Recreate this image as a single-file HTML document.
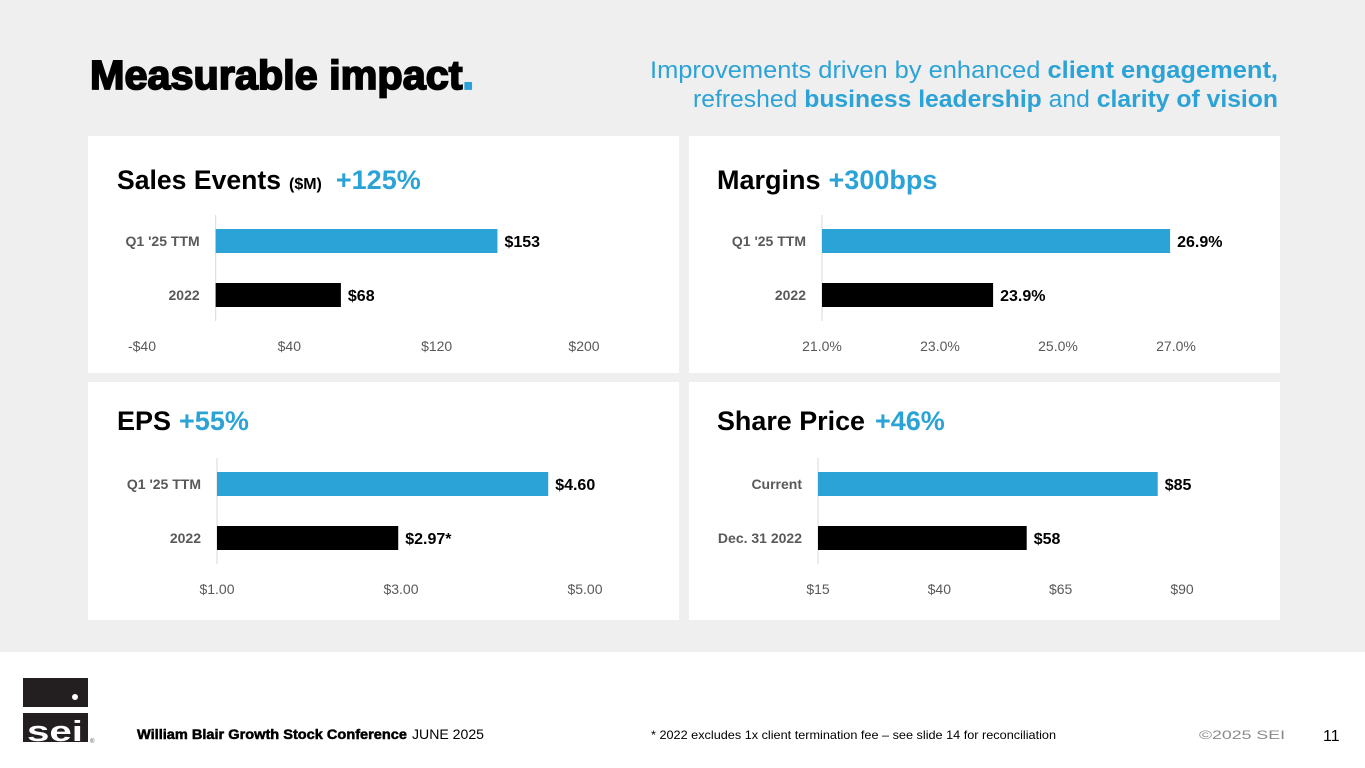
<!DOCTYPE html>
<html><head><meta charset="utf-8"><style>
html,body{margin:0;padding:0;width:1365px;height:768px;overflow:hidden;background:#fff}
svg{display:block;font-family:"Liberation Sans",sans-serif}
</style></head><body>
<svg id="s" width="1365" height="768" viewBox="0 0 1365 768">
<rect x="0" y="0" width="1365" height="652" fill="#efefef"/>
<text x="90" y="89" font-size="41" font-weight="bold" fill="#000" stroke="#000" stroke-width="1.8" textLength="384" lengthAdjust="spacingAndGlyphs">Measurable impact<tspan fill="#2ca3d6" stroke="#2ca3d6">.</tspan></text>
<text x="1278" y="78" font-size="24" fill="#2ca3d6" text-anchor="end" textLength="628" lengthAdjust="spacingAndGlyphs">Improvements driven by enhanced <tspan font-weight="bold">client engagement,</tspan></text>
<text x="1278" y="107" font-size="24" fill="#2ca3d6" text-anchor="end" textLength="585" lengthAdjust="spacingAndGlyphs">refreshed <tspan font-weight="bold">business leadership</tspan> and <tspan font-weight="bold">clarity of vision</tspan></text>

<rect x="88" y="136" width="591" height="237" fill="#fff"/>
<rect x="689" y="136" width="591" height="237" fill="#fff"/>
<rect x="88" y="382" width="591" height="238" fill="#fff"/>
<rect x="689" y="382" width="591" height="238" fill="#fff"/>

<text x="117" y="189" font-size="27" font-weight="bold" fill="#000"><tspan textLength="164" lengthAdjust="spacingAndGlyphs">Sales Events</tspan><tspan font-size="16" dx="8">($M)</tspan><tspan fill="#2ca3d6" dx="14">+125%</tspan></text>
<text x="717" y="189" font-size="27" font-weight="bold" fill="#000"><tspan>Margins</tspan><tspan fill="#2ca3d6" dx="8">+300bps</tspan></text>
<text x="117" y="430" font-size="27" font-weight="bold" fill="#000"><tspan>EPS</tspan><tspan fill="#2ca3d6" dx="8">+55%</tspan></text>
<text x="717" y="430" font-size="27" font-weight="bold" fill="#000"><tspan textLength="148" lengthAdjust="spacingAndGlyphs">Share Price</tspan><tspan fill="#2ca3d6" dx="10">+46%</tspan></text>
<g id="charts"></g>

<g>
<rect x="23" y="678" width="65" height="29" fill="#231f20"/>
<circle cx="75" cy="697" r="3" fill="#fff"/>
<rect x="23" y="713" width="65" height="29" fill="#231f20"/>
<text x="27" y="741" font-size="29" font-weight="bold" fill="#fff" textLength="56" lengthAdjust="spacingAndGlyphs">sei</text>
<text x="90" y="743" font-size="6" fill="#555">®</text>
</g>
<text x="137" y="739" font-size="14" font-weight="bold" fill="#000" stroke="#000" stroke-width="0.5" textLength="270" lengthAdjust="spacingAndGlyphs">William Blair Growth Stock Conference</text>
<text x="412" y="739" font-size="14" fill="#000" textLength="72" lengthAdjust="spacingAndGlyphs">JUNE  2025</text>
<text x="651" y="739" font-size="12" fill="#000" textLength="405" lengthAdjust="spacingAndGlyphs">* 2022 excludes 1x client termination fee – see slide 14 for reconciliation</text>
<text x="1199" y="739" font-size="12" fill="#8a8a8a" textLength="86" lengthAdjust="spacingAndGlyphs">©2025 SEI</text>
<text x="1323" y="741" font-size="16" fill="#000">11</text>
</svg>
<script>
// Sales Events
const salesCats = ["Q1 '25 TTM", "2022"];
const salesVals = [153, 68];
const salesLabels = ["$153", "$68"];
const salesTicks = [-40, 40, 120, 200];
const salesTickLabels = ["-$40", "$40", "$120", "$200"];
// Margins
const marginCats = ["Q1 '25 TTM", "2022"];
const marginVals = [26.9, 23.9];
const marginLabels = ["26.9%", "23.9%"];
const marginTicks = [21, 23, 25, 27];
const marginTickLabels = ["21.0%", "23.0%", "25.0%", "27.0%"];
// EPS
const epsCats = ["Q1 '25 TTM", "2022"];
const epsVals = [4.60, 2.97];
const epsLabels = ["$4.60", "$2.97*"];
const epsTicks = [1, 3, 5];
const epsTickLabels = ["$1.00", "$3.00", "$5.00"];
// Share price
const shareCats = ["Current", "Dec. 31 2022"];
const shareVals = [85, 58];
const shareLabels = ["$85", "$58"];
const shareTicks = [15, 40, 65, 90];
const shareTickLabels = ["$15", "$40", "$65", "$90"];

const NS = "http://www.w3.org/2000/svg";
const root = document.getElementById('charts');
const colors = ["#2ca3d6", "#000"];
function mk(tag, attrs, txt){const e=document.createElementNS(NS,tag);for(const k in attrs)e.setAttribute(k,attrs[k]);if(txt!==undefined)e.textContent=txt;root.appendChild(e);return e;}

function drawChart(prefix, cats, vals, labels, ticks, tickLabels, lay){
  const x = v => lay.px0 + (v - lay.t0) * (lay.px1 - lay.px0) / (lay.t1 - lay.t0);
  const base = x(lay.base);
  const ax = mk('line',{x1:base,x2:base,y1:lay.top,y2:lay.top+106,stroke:'#d9d9d9','stroke-width':1});
  
  
  cats.forEach((c,i)=>{
    const y = lay.top + 14 + i*54;
    const r = mk('rect',{x:base,y:y,width:Math.max(0,x(vals[i])-base),height:24,fill:colors[i]});
    
    
    const cl = mk('text',{x:base-16,y:y+17,'font-size':14,'font-weight':'bold',fill:'#595959','text-anchor':'end'},c);
    
    
    const vl = mk('text',{x:x(vals[i])+7,y:y+18,'font-size':16,'font-weight':'bold',fill:'#000'},labels[i]);
    
    
  });
  ticks.forEach((t,i)=>{
    const tl = mk('text',{x:x(t),y:lay.top+136,'font-size':14,fill:'#595959','text-anchor':'middle'},tickLabels[i]);
    
    
  });
}
drawChart('sales', salesCats, salesVals, salesLabels, salesTicks, salesTickLabels, {px0:142,px1:584,t0:-40,t1:200,base:0,top:215});
drawChart('margins', marginCats, marginVals, marginLabels, marginTicks, marginTickLabels, {px0:822,px1:1176,t0:21,t1:27,base:21,top:215});
drawChart('eps', epsCats, epsVals, epsLabels, epsTicks, epsTickLabels, {px0:217,px1:585,t0:1,t1:5,base:1,top:458});
drawChart('share', shareCats, shareVals, shareLabels, shareTicks, shareTickLabels, {px0:818,px1:1182,t0:15,t1:90,base:15,top:458});
</script>
</body></html>
